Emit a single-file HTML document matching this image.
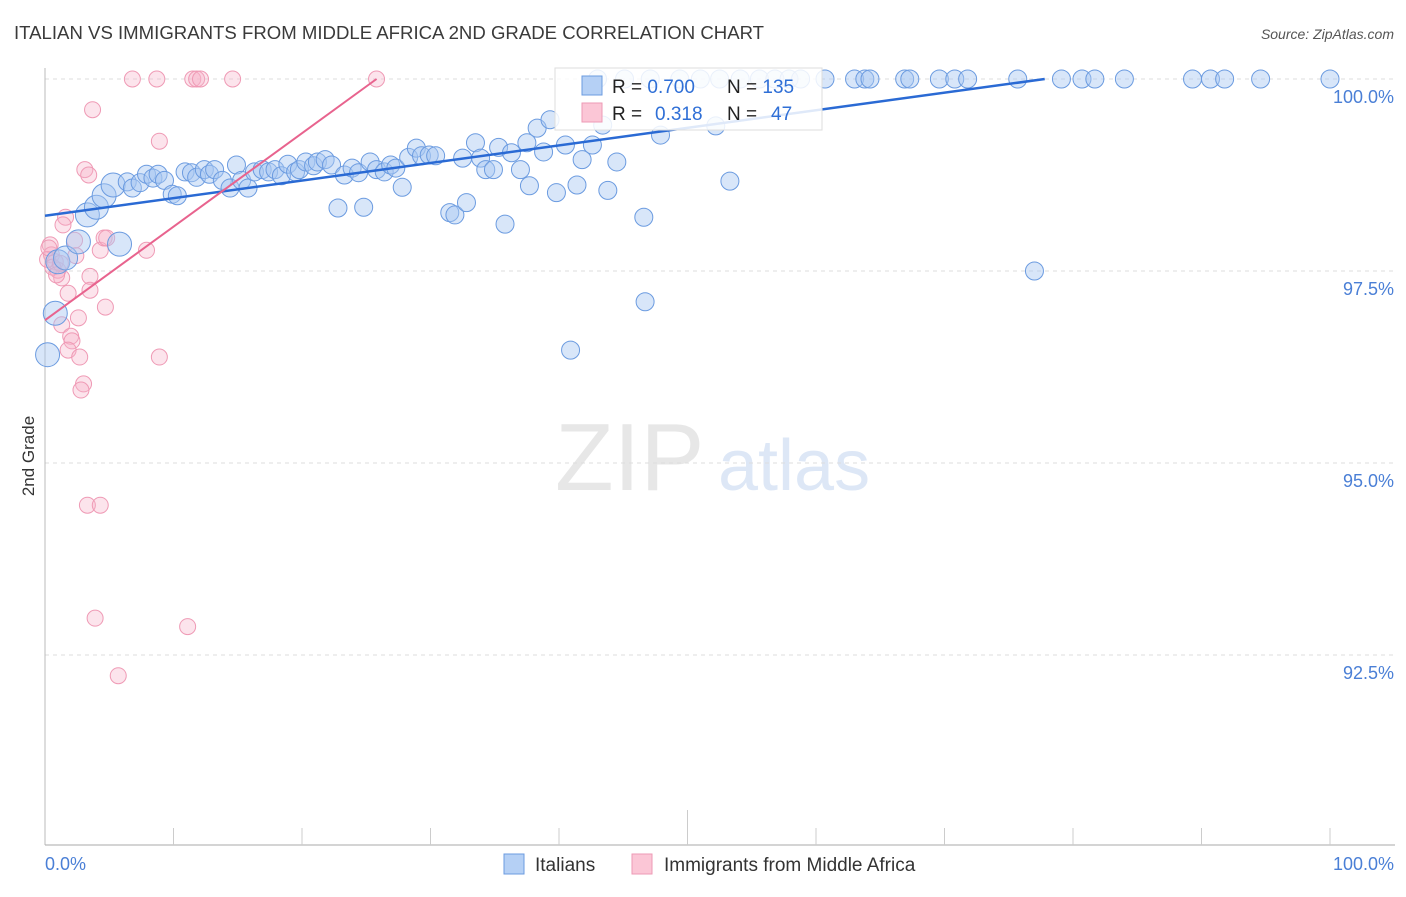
<!DOCTYPE html>
<html><head><meta charset="utf-8"><style>
body{margin:0;background:#fff;font-family:"Liberation Sans",sans-serif}
svg text{font-family:"Liberation Sans",sans-serif}
</style></head><body>
<svg id="chart" width="1406" height="892" viewBox="0 0 1406 892" xmlns="http://www.w3.org/2000/svg">
<text x="14" y="39" font-size="18.6" fill="#3a3a3a">ITALIAN VS IMMIGRANTS FROM MIDDLE AFRICA 2ND GRADE CORRELATION CHART</text>
<text x="1394" y="39" font-size="14" fill="#555" text-anchor="end" font-style="italic">Source: ZipAtlas.com</text>
<text transform="translate(34,456) rotate(-90)" font-size="17" fill="#333" text-anchor="middle">2nd Grade</text>
<g opacity="0.35">
<text x="555" y="490" font-size="96" fill="#bbb" font-family="Liberation Serif,serif">ZIP</text>
<text x="718" y="490" font-size="72" fill="#9fbde8">atlas</text>
</g>
<g id="grid"></g>
<g id="axes"></g>
<g id="pts"></g>
<g id="lines"></g>
<g>
<rect x="555" y="68" width="267" height="62" fill="#fff" fill-opacity="0.85" stroke="#ddd"/>
<rect x="582" y="76" width="20" height="19" fill="#b5d0f5" stroke="#6b9be0"/>
<rect x="582" y="103" width="20" height="19" fill="#fbc6d6" stroke="#ee9ab5"/>
<text x="612" y="93" font-size="19" fill="#222">R = <tspan fill="#2f6fd6">0.700</tspan><tspan x="727">N = </tspan><tspan fill="#2f6fd6">135</tspan></text>
<text x="612" y="120" font-size="19" fill="#222">R = <tspan x="655" fill="#2f6fd6">0.318</tspan><tspan x="727">N = </tspan><tspan x="771" fill="#2f6fd6">47</tspan></text>
</g>
<g>
<rect x="504" y="854" width="20" height="20" fill="#b5d0f5" stroke="#6b9be0"/>
<text x="535" y="871" font-size="19" fill="#333">Italians</text>
<rect x="632" y="854" width="20" height="20" fill="#fbc6d6" stroke="#ee9ab5"/>
<text x="664" y="871" font-size="19" fill="#333">Immigrants from Middle Africa</text>
</g>
<text x="45" y="870" font-size="18" fill="#4a7fd6">0.0%</text>
<text x="1394" y="870" font-size="18" fill="#4a7fd6" text-anchor="end">100.0%</text>
</svg>
<script>
const blueX=[0.2,0.8,1.0,1.6,2.6,3.3,4.0,4.6,5.3,5.8,6.4,6.8,7.4,7.9,8.4,8.8,9.3,9.9,10.3,10.9,11.4,11.8,12.4,12.8,13.2,13.8,14.4,14.9,15.3,15.8,16.3,16.9,17.4,17.9,18.4,18.9,19.5,19.8,20.3,20.9,21.2,21.8,22.3,22.8,23.3,23.9,24.4,24.8,25.3,25.8,26.4,26.9,27.3,27.8,28.3,28.9,29.3,29.9,30.4,31.5,31.9,32.5,32.8,33.5,33.9,34.3,34.9,35.3,35.8,36.3,37.0,37.5,37.7,38.3,38.8,39.3,39.8,40.5,40.9,41.4,41.8,42.6,43.4,43.8,44.5,46.6,46.7,47.9,52.2,53.3,77.0,43.0,45.1,47.1,49.4,51.0,52.5,54.1,55.6,56.8,57.9,58.8,60.7,63.0,63.8,64.2,66.9,67.3,69.6,70.8,71.8,75.7,79.1,80.7,81.7,84.0,89.3,90.7,91.8,94.6,100.0];
const blueY=[96.41,96.95,97.62,97.67,97.88,98.23,98.33,98.48,98.62,97.85,98.66,98.58,98.65,98.76,98.71,98.76,98.68,98.50,98.48,98.79,98.78,98.72,98.82,98.76,98.82,98.68,98.58,98.88,98.68,98.58,98.79,98.82,98.79,98.82,98.74,98.89,98.79,98.82,98.92,98.87,98.92,98.95,98.88,98.32,98.75,98.84,98.78,98.33,98.92,98.82,98.79,98.88,98.84,98.59,98.98,99.10,99.00,99.01,99.00,98.26,98.23,98.97,98.39,99.17,98.97,98.82,98.82,99.11,98.11,99.04,98.82,99.17,98.61,99.36,99.05,99.47,98.52,99.14,96.47,98.62,98.95,99.14,99.40,98.55,98.92,98.20,97.10,99.27,99.39,98.67,97.50,100,100,100,100,100,100,100,100,100,100,100,100,100,100,100,100,100,100,100,100,100,100,100,100,100,100,100,100,100,100];
const pinkX=[6.8,8.7,11.5,11.8,12.1,14.6,25.8,3.7,8.9,3.1,3.4,1.6,1.4,0.4,0.5,0.8,1.0,1.3,2.3,4.3,4.6,4.8,7.9,3.5,3.5,1.8,4.7,1.3,2.6,2.0,2.1,1.8,2.7,8.9,3.0,2.8,3.3,4.3,3.9,11.1,5.7,0.2,0.6,1.2,0.3,0.9,2.4];
const pinkY=[100,100,100,100,100,100,100,99.60,99.19,98.82,98.75,98.20,98.10,97.84,97.71,97.62,97.51,97.41,97.90,97.77,97.93,97.93,97.77,97.43,97.25,97.21,97.03,96.80,96.89,96.65,96.59,96.47,96.38,96.38,96.03,95.95,94.45,94.45,92.98,92.87,92.23,97.65,97.55,97.6,97.8,97.45,97.7];
const yTicks=[100,97.5,95,92.5];
const yTickLabels=["100.0%","97.5%","95.0%","92.5%"];
const blueTrend=[[0,98.22],[77.8,100]];
const pinkTrend=[[0,96.86],[25.8,100]];
const NS="http://www.w3.org/2000/svg";
const sx=v=>45+v*12.85;
const sy=v=>79+(100-v)/2.5*192;
function mk(t,a,p){const e=document.createElementNS(NS,t);for(const k in a)e.setAttribute(k,a[k]);p.appendChild(e);return e;}
const grid=document.getElementById('grid'),axes=document.getElementById('axes');
yTicks.forEach((t,i)=>{
 const l=mk('line',{x1:45,x2:1395,y1:sy(t),y2:sy(t),stroke:'#ddd','stroke-dasharray':'4,4'},grid);
 
 
 const tx=mk('text',{x:1394,y:sy(t)+24,'font-size':18,fill:'#4a7fd6','text-anchor':'end'},axes);
 tx.textContent=yTickLabels[i];
 
 
});
mk('line',{x1:45,x2:45,y1:68,y2:845,stroke:'#bbb'},axes);
mk('line',{x1:45,x2:1395,y1:845,y2:845,stroke:'#aaa'},axes);
for(let i=1;i<=10;i++){const x=sx(i*10);const t=mk('line',{x1:x,x2:x,y1:i==5?810:828,y2:845,stroke:'#ccc'},axes);
 
 }
const pts=document.getElementById('pts');
pinkX.forEach((x,i)=>{const c=mk('circle',{cx:sx(x),cy:sy(pinkY[i]),r:8,fill:'#f7b3c8','fill-opacity':0.35,stroke:'#ef9ab5','stroke-width':1},pts);
 
 });
blueX.forEach((x,i)=>{const r=x<6?12:9;const c=mk('circle',{cx:sx(x),cy:sy(blueY[i]),r:r,fill:'#a9c8f2','fill-opacity':0.45,stroke:'#6b9be0','stroke-width':1},pts);
 
 });
const lines=document.getElementById('lines');
const bl=mk('line',{x1:sx(blueTrend[0][0]),y1:sy(blueTrend[0][1]),x2:sx(blueTrend[1][0]),y2:sy(blueTrend[1][1]),stroke:'#2a6ad4','stroke-width':2.5},lines);


const pl=mk('line',{x1:sx(pinkTrend[0][0]),y1:sy(pinkTrend[0][1]),x2:sx(pinkTrend[1][0]),y2:sy(pinkTrend[1][1]),stroke:'#e8638e','stroke-width':2},lines);


</script>
</body></html>
